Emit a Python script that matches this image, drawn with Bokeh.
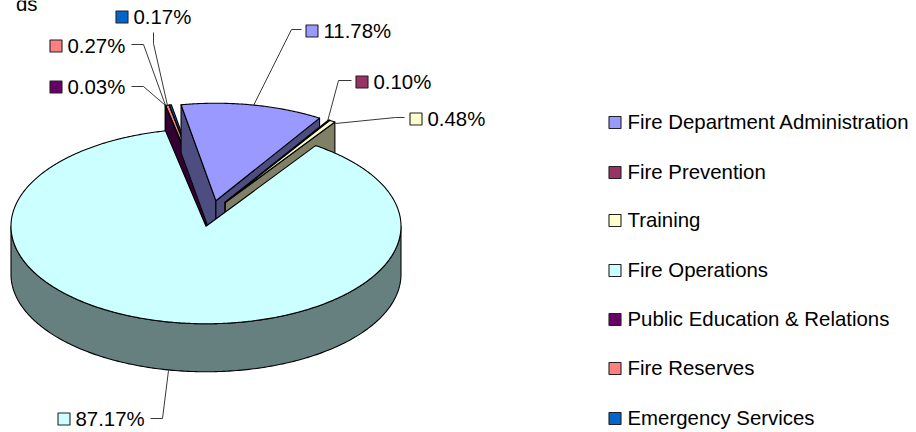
import math
from bokeh.plotting import figure
from bokeh.models import Range1d, ColumnDataSource
from bokeh.core.properties import value
from bokeh.embed import file_html
from bokeh.resources import INLINE

categories = ["Fire Department Administration", "Fire Prevention", "Training", "Fire Operations",
              "Public Education & Relations", "Fire Reserves", "Emergency Services"]
shares = [11.78, 0.10, 0.48, 87.17, 0.03, 0.27, 0.17]
share_labels = ["11.78%", "0.10%", "0.48%", "87.17%", "0.03%", "0.27%", "0.17%"]
top_colors = ["#9999FF", "#993366", "#FFFFCC", "#CCFFFF", "#660066", "#FF8080", "#0066CC"]
wall_colors = ["#4D4D80", "#4D1A33", "#808066", "#668080", "#330033", "#804040", "#003366"]
title_fragment = "ds"

# Layout, in reference pixels
CX, CY, RX, RY, DEPTH, EXPLODE, START = 210.5, 213.0, 195.0, 97.5, 48.0, 26.0, -10.3
FONT = "Liberation Sans"
FS = "20.4px"
DRAW_ORDER = [6, 5, 4, 0, 1, 2, 3]
label_swatch_xy = [(305, 24), (355, 75), (409, 112), (57, 412), (49, 80), (49, 39), (115, 10)]
leader_bends = [[(301, 29), (291, 29)], [(351, 80), (338, 80)], [(404, 117), (395, 117)],
                [(150, 418), (162, 418)], [(131, 86), (143, 86)], [(131, 44), (143, 44)],
                [(153, 32), (153, 43)]]
leader_ends = [(253, 105), (327, 121), (335, 123), (168, 370), (165, 105), (165, 105), (167, 105)]
legend_rows = [122, 172, 220, 270, 319, 368, 418]
SW = 13

p = figure(width=916, height=432, output_backend="svg", toolbar_location=None,
           x_range=Range1d(0, 916), y_range=Range1d(432, 0), min_border=0)
p.axis.visible = False
p.grid.visible = False
p.outline_line_color = None
p.background_fill_color = "white"


def pt(ax, ay, deg, r=RX):
    t = math.radians(deg)
    return ax + r * math.sin(t), ay - (r * RY / RX) * math.cos(t)


total = sum(shares)
angles = []
a = START
for s in shares:
    b = a + s / total * 360
    angles.append((a, b))
    a = b

xs, ys, fills = [], [], []


def add(poly, color):
    xs.append([q[0] for q in poly])
    ys.append([q[1] for q in poly])
    fills.append(color)


for i in DRAW_ORDER:
    a, b = angles[i]
    mid = math.radians((a + b) / 2)
    ax = CX + EXPLODE * math.sin(mid)
    ay = CY - EXPLODE * RY / RX * math.cos(mid)
    # walls of the radial edges that face the viewer
    for deg, show in ((a, math.sin(math.radians(a)) < 0), (b, math.sin(math.radians(b)) > 0)):
        if show:
            e = pt(ax, ay, deg)
            add([(ax, ay), e, (e[0], e[1] + DEPTH), (ax, ay + DEPTH)], wall_colors[i])
    # outer rim on the near side
    lo, hi = max(a, 90), min(b, 270)
    if hi > lo:
        arc = [pt(ax, ay, lo + (hi - lo) * k / 240) for k in range(241)]
        add(arc + [(q[0], q[1] + DEPTH) for q in reversed(arc)], wall_colors[i])
    # top surface
    n = max(2, int((b - a) * 2))
    add([(ax, ay)] + [pt(ax, ay, a + (b - a) * k / n) for k in range(n + 1)], top_colors[i])

p.patches(xs, ys, fill_color=fills, line_color="black", line_width=1.1, line_join="round")

# leader lines
p.multi_line([[q[0] for q in b] + [e[0]] for b, e in zip(leader_bends, leader_ends)],
             [[q[1] for q in b] + [e[1]] for b, e in zip(leader_bends, leader_ends)],
             line_color="#222222", line_width=0.9)

# data labels
src = ColumnDataSource(dict(
    left=[q[0] + 0.5 for q in label_swatch_xy], right=[q[0] + SW - 0.5 for q in label_swatch_xy],
    top=[q[1] + 0.5 for q in label_swatch_xy], bottom=[q[1] + SW - 0.5 for q in label_swatch_xy],
    color=top_colors, tx=[q[0] + SW + 5 for q in label_swatch_xy],
    ty=[q[1] + SW / 2 - 0.5 for q in label_swatch_xy], label=share_labels))
p.quad(left="left", right="right", top="top", bottom="bottom", fill_color="color",
       line_color="#222222", line_width=1.1, source=src)
p.text(x="tx", y="ty", text="label", text_font=value(FONT), text_font_size=value(FS),
       text_color="black", text_baseline="middle", source=src)

# legend
leg = ColumnDataSource(dict(
    left=[608.5] * 7, right=[620.5] * 7,
    top=[y - 6 for y in legend_rows], bottom=[y + 6 for y in legend_rows],
    color=top_colors, tx=[627] * 7, ty=[y - 0.5 for y in legend_rows], label=categories))
p.quad(left="left", right="right", top="top", bottom="bottom", fill_color="color",
       line_color="#222222", line_width=1.1, source=leg)
p.text(x="tx", y="ty", text="label", text_font=value(FONT), text_font_size=value(FS),
       text_color="black", text_baseline="middle", source=leg)

# the cut-off end of the title at the top edge
p.text(x=[37], y=[3], text=[title_fragment], text_font=value(FONT), text_font_size=value(FS),
       text_color="black", text_align="right", text_baseline="alphabetic")

open("out.html", "w").write(file_html(p, INLINE))
